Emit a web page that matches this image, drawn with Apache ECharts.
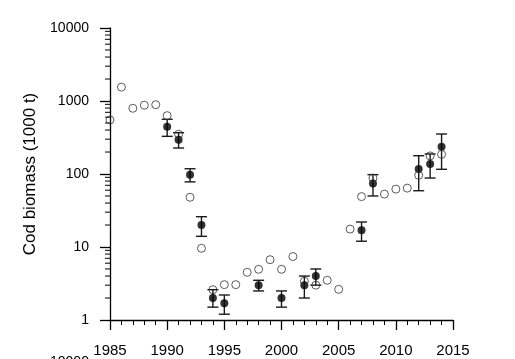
<!DOCTYPE html>
<html>
<head>
<meta charset="utf-8">
<script src="https://cdn.jsdelivr.net/npm/echarts@6/dist/echarts.min.js"></script>
<style>html,body{margin:0;padding:0;background:#fff;}#c{width:515px;height:359px;}</style>
</head>
<body>
<div id="c"></div>
<script>
// Open circles
var openYears = [1985,1986,1987,1988,1989,1990,1991,1992,1993,1994,1995,1996,1997,1998,1999,2000,2001,2002,2003,2004,2005,2006,2007,2008,2009,2010,2011,2012,2013,2014];
var openValues = [550,1550,795,875,890,630,350,48,9.6,2.6,3.05,3.05,4.5,4.95,6.7,4.95,7.4,3.4,3.0,3.5,2.63,17.6,49,88,53,62,64,96,177,186];
// Filled circles with error bars
var filledYears = [1990,1991,1992,1993,1994,1995,1998,2000,2002,2003,2007,2008,2012,2013,2014];
var filledValues = [445,295,98,20,2.0,1.7,3.0,2.0,3.0,4.0,17,74,117,137,237];
var filledLower = [328,227,78,14,1.5,1.2,2.5,1.5,2.0,3.0,12,50,59,88,116];
var filledUpper = [562,368,118,26,2.6,2.2,3.5,2.5,4.0,5.0,22,98,178,188,353];
// Axis
var yMinorTicks = [2,3,4,5,6,7,8,9,20,30,40,50,60,70,80,90,200,300,400,500,600,700,800,900,2000,3000,4000,5000,6000,7000,8000,9000];

var FONT = 'Liberation Sans, Arial, sans-serif';
var chart = echarts.init(document.getElementById('c'), null, {renderer: 'canvas'});

var openData = openYears.map(function (y, i) { return [y, openValues[i]]; });
var filledData = filledYears.map(function (y, i) { return [y, filledValues[i]]; });
var errData = filledYears.map(function (y, i) { return [y, filledLower[i], filledUpper[i]]; });
var minorData = yMinorTicks.map(function (v) { return [1985, v]; });

chart.setOption({
  animation: false,
  backgroundColor: '#fff',
  grid: {left: 110, right: 62, top: 28, bottom: 39, containLabel: false},
  xAxis: {
    type: 'value', min: 1985, max: 2015, interval: 5,
    axisLine: {show: true, lineStyle: {color: '#000', width: 1.3}},
    axisTick: {show: true, length: 10, lineStyle: {color: '#000', width: 1.3}},
    minorTick: {show: true, splitNumber: 5, length: 5, lineStyle: {color: '#000', width: 1}},
    splitLine: {show: false},
    axisLabel: {color: '#000', fontSize: 15, fontFamily: FONT, margin: 23,
      formatter: function (v) { return String(v); }}
  },
  yAxis: {
    type: 'log', logBase: 10, min: 1, max: 10000,
    name: 'Cod biomass (1000 t)', nameLocation: 'middle', nameGap: 48,
    nameTextStyle: {color: '#000', fontSize: 17, fontFamily: FONT},
    axisLine: {show: true, lineStyle: {color: '#000', width: 1.3}},
    axisTick: {show: true, length: 10, lineStyle: {color: '#000', width: 1.3}},
    splitLine: {show: false},
    axisLabel: {color: '#000', fontSize: 14, fontFamily: FONT, margin: 21,
      formatter: function (v) { return String(Math.round(v)); }}
  },
  series: [
    {
      type: 'custom', data: minorData, clip: false, silent: true, z: 1,
      renderItem: function (params, api) {
        var p = api.coord([api.value(0), api.value(1)]);
        return {type: 'line', shape: {x1: p[0] - 5, y1: p[1], x2: p[0], y2: p[1]},
          style: {stroke: '#000', lineWidth: 1}};
      }
    },
    {
      type: 'custom', data: errData, clip: false, silent: true, z: 2,
      renderItem: function (params, api) {
        var x = api.value(0);
        var lo = api.coord([x, api.value(1)]);
        var hi = api.coord([x, api.value(2)]);
        var w = 5.5;
        var st = {stroke: '#1a1a1a', lineWidth: 1.4};
        return {type: 'group', children: [
          {type: 'line', shape: {x1: lo[0], y1: lo[1], x2: hi[0], y2: hi[1]}, style: st},
          {type: 'line', shape: {x1: lo[0] - w, y1: lo[1], x2: lo[0] + w, y2: lo[1]}, style: st},
          {type: 'line', shape: {x1: hi[0] - w, y1: hi[1], x2: hi[0] + w, y2: hi[1]}, style: st}
        ]};
      }
    },
    {
      type: 'scatter', data: filledData, symbol: 'circle', symbolSize: 8, z: 3,
      itemStyle: {color: '#000', borderColor: '#000', borderWidth: 0}
    },
    {
      type: 'scatter', data: openData, symbol: 'circle', symbolSize: 8, z: 4, clip: false,
      itemStyle: {color: 'rgba(255,255,255,0)', borderColor: '#333', borderWidth: 1}
    }
  ],
  graphic: [
    {type: 'text', left: 50, top: 355, style: {text: '10000', fill: '#000', font: '14px ' + FONT}}
  ]
});
</script>
</body>
</html>
